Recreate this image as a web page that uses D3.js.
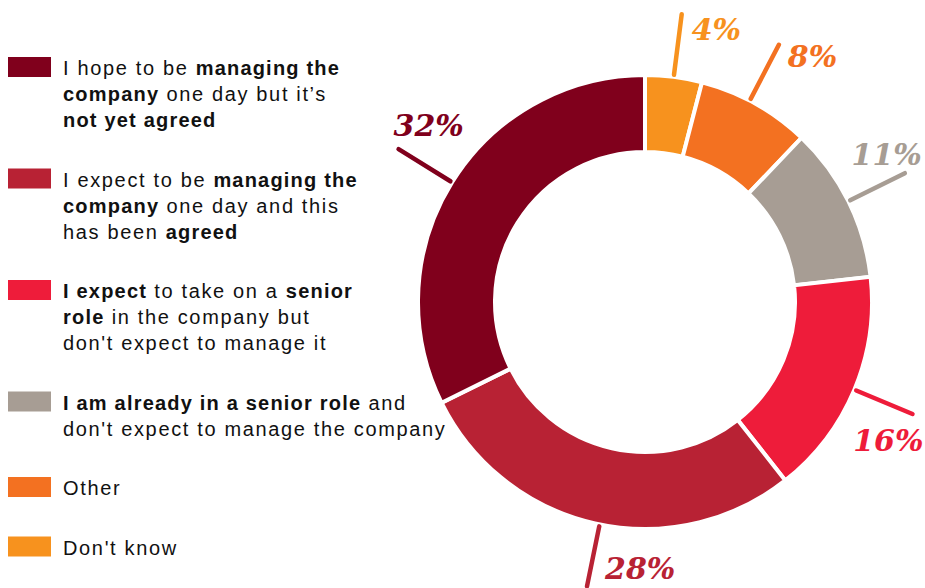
<!DOCTYPE html>
<html>
<head>
<meta charset="utf-8">
<script src="https://cdn.jsdelivr.net/npm/d3@7/dist/d3.min.js"></script>
<style>
  html, body { margin: 0; padding: 0; background: #ffffff; }
  svg { display: block; }
</style>
</head>
<body>
<svg id="chart" width="925" height="588"></svg>
<script>
// ---- Data (legend order) ----
const categories = [
  "I hope to be managing the company one day but it's not yet agreed",
  "I expect to be managing the company one day and this has been agreed",
  "I expect to take on a senior role in the company but don't expect to manage it",
  "I am already in a senior role and don't expect to manage the company",
  "Other",
  "Don't know"
];
const values = [32, 28, 16, 11, 8, 4];
const valueLabels = ["32%", "28%", "16%", "11%", "8%", "4%"];
const colors = ["#80001c", "#b82234", "#ee1c3a", "#a79d94", "#f37121", "#f7921e"];
// legend text lines, segments as [text, bold]
const legendLines = [
  [[["I hope to be ", false], ["managing the", true]],
   [["company", true], [" one day but it\u2019s", false]],
   [["not yet agreed", true]]],
  [[["I expect to be ", false], ["managing the", true]],
   [["company", true], [" one day and this", false]],
   [["has been ", false], ["agreed", true]]],
  [[["I expect", true], [" to take on a ", false], ["senior", true]],
   [["role", true], [" in the company but", false]],
   [["don't expect to manage it", false]]],
  [[["I am already in a senior role", true], [" and", false]],
   [["don't expect to manage the company", false]]],
  [[["Other", false]]],
  [[["Don't know", false]]]
];

// ---- Layout ----
const cx = 645, cy = 302;
const outerR = 227, innerR = 150;
const lineR0 = 229, lineR1 = 290;
// per-label tweaks (legend order): angle nudge in degrees, text offset from line end
const labelLayout = [
  { dA: 0,    dx: -5, dy: -13, anchor: "start" },
  { dA: -1.2, dx: 18, dy: -7,  anchor: "start" },
  { dA: 0,    dx: 11, dy: 37,  anchor: "end" },
  { dA: 0,    dx: 17, dy: -8,  anchor: "end" },
  { dA: -1.6, dx: 9,  dy: 22,  anchor: "start" },
  { dA: 0,    dx: 10, dy: 26,  anchor: "start" }
];

const svg = d3.select("#chart");
svg.append("rect").attr("width", 925).attr("height", 588).attr("fill", "#fff");

// ---- Donut (clockwise from top: Don't know, Other, ..., 32%) ----
const idx = d3.range(values.length).reverse();
const pie = d3.pie().sort(null).value(i => values[i]);
const arcs = pie(idx);
const arc = d3.arc().innerRadius(innerR).outerRadius(outerR);

const g = svg.append("g").attr("transform", `translate(${cx},${cy})`);
g.selectAll("path.slice")
  .data(arcs)
  .join("path")
  .attr("class", "slice")
  .attr("d", arc)
  .attr("fill", d => colors[d.data])
  .attr("stroke", "#fff")
  .attr("stroke-width", 4)
  .attr("stroke-linejoin", "miter");

// leader lines + labels
arcs.forEach(d => {
  const i = d.data;
  const L = labelLayout[i];
  const a = (d.startAngle + d.endAngle) / 2 + L.dA * Math.PI / 180;
  const p0 = [Math.sin(a) * lineR0, -Math.cos(a) * lineR0];
  const p1 = [Math.sin(a) * lineR1, -Math.cos(a) * lineR1];
  g.append("line")
    .attr("x1", p0[0]).attr("y1", p0[1])
    .attr("x2", p1[0]).attr("y2", p1[1])
    .attr("stroke", colors[i])
    .attr("stroke-width", 4.5)
    .attr("stroke-linecap", "round");
  g.append("text")
    .attr("x", p1[0] + L.dx)
    .attr("y", p1[1] + L.dy)
    .attr("text-anchor", L.anchor)
    .attr("font-family", "'DejaVu Serif', serif")
    .attr("font-style", "italic")
    .attr("font-weight", "bold")
    .attr("font-size", 30)
    .attr("fill", colors[i])
    .text(valueLabels[i]);
});

// ---- Legend ----
const lineH = 26, gap = 33.5;
let baseline = 75;
const legend = svg.append("g");
legendLines.forEach((lines, i) => {
  legend.append("rect")
    .attr("x", 8).attr("y", baseline - 18)
    .attr("width", 43).attr("height", 20)
    .attr("fill", colors[i]);
  lines.forEach((segs, j) => {
    const t = legend.append("text")
      .attr("x", 63)
      .attr("y", baseline + j * lineH)
      .attr("font-family", "'Liberation Sans', Arial, sans-serif")
      .attr("font-size", 20)
      .attr("fill", "#111");
    segs.forEach(s => {
      t.append("tspan")
        .attr("font-weight", s[1] ? "bold" : "normal")
        .attr("letter-spacing", s[1] ? "1.2px" : "1.65px")
        .text(s[0]);
    });
  });
  baseline += lines.length * lineH + gap;
});
</script>
</body>
</html>
